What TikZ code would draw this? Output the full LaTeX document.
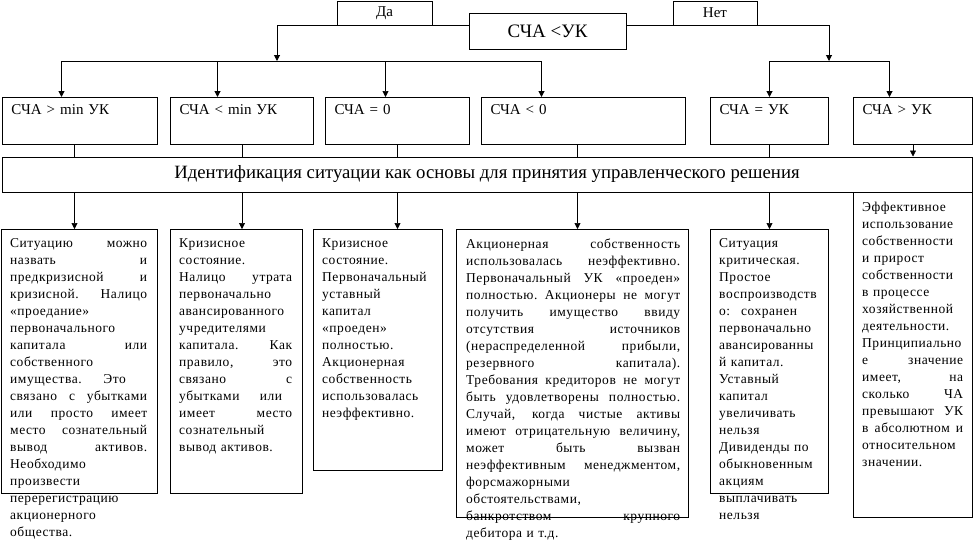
\documentclass[tikz,border=0pt]{standalone}
\usepackage{fontspec}
\setmainfont{Liberation Serif}
\newfontfamily\bodyfont[LetterSpace=4]{Liberation Serif}
\usetikzlibrary{arrows.meta, positioning, calc}

% строка, растянутая на всю ширину (выравнивание по ширине)
\newcommand{\jl}[1]{\leavevmode\hbox to \hsize{\spaceskip=0.3em plus 1fil\xspaceskip=0.3em plus 1fil\relax #1}}

\begin{document}
\begin{tikzpicture}[
    x=1pt, y=-1pt,
    font=\bodyfont\fontsize{13.5}{17}\selectfont,
    >={Triangle[length=6pt, width=6pt]},
    conn/.style={line width=1pt},
    thinconn/.style={line width=0.6pt},
    box/.style={rectangle, draw=black, line width=1pt, inner sep=0pt},
    tagbox/.style={box, minimum height=24pt, font=\rmfamily\fontsize{15}{17}\selectfont},
    condbox/.style={box, anchor=north west, minimum height=47pt, align=left, text width=#1,
        text height=13pt, text depth=26pt, inner xsep=9pt, inner ysep=4pt, font=\rmfamily\fontsize{15}{17}\selectfont},
    descbox/.style={box, anchor=north west},
    desctext/.style={anchor=north west, inner sep=0pt, align=left, text width=#1}
]

    % ================= 1. УСЛОВИЕ =================
    \node[box, minimum width=157pt, minimum height=36pt, font=\rmfamily\fontsize{19}{21}\selectfont] (sca) at (547.5,31) {СЧА <УК};
    \node[tagbox, minimum width=95pt] (da) at (384.5,13) {Да};
    \node[tagbox, minimum width=84pt] (net) at (715,13) {Нет\hspace{14pt}};

    \coordinate (yes) at (277,61);
    \coordinate (no) at (829,61);

    % ================= 2. СООТНОШЕНИЯ СЧА И УК =================
    \node[condbox=137pt] (r1) at (2,97) {СЧА > min УК};
    \node[condbox=125pt] (r2) at (170,97) {СЧА < min УК};
    \node[condbox=126pt] (r3) at (325,97) {СЧА = 0};
    \node[condbox=186pt] (r4) at (481,97) {СЧА < 0};
    \node[condbox=100pt] (r5) at (710,97) {СЧА = УК};
    \node[condbox=101pt] (r6) at (853,97) {СЧА > УК};

    % ================= 3. ИДЕНТИФИКАЦИЯ =================
    \node[box, minimum width=970pt, minimum height=35pt, font=\rmfamily\fontsize{18.75}{21}\selectfont] (big) at (487,174.5) {Идентификация ситуации как основы для принятия управленческого решения};

    % ================= 4. ОПИСАНИЕ СИТУАЦИЙ =================
    \node[descbox, minimum width=156pt, minimum height=264pt] (d1) at (1,229) {};
    \node[descbox, minimum width=132pt, minimum height=264pt] (d2) at (170,229) {};
    \node[descbox, minimum width=129pt, minimum height=241pt] (d3) at (313,229) {};
    \node[descbox, minimum width=232pt, minimum height=288pt] (d4) at (456,229) {};
    \node[descbox, minimum width=118pt, minimum height=264pt] (d5) at (710,229) {};
    \node[descbox, minimum width=119pt, minimum height=325pt] (d6) at (853,192) {};

    \node[desctext=137pt] (t1) at ([xshift=9pt, yshift=-9.5pt]d1.north west) {%
        \jl{Ситуацию можно}\\
        \jl{назвать и}\\
        \jl{предкризисной и}\\
        \jl{кризисной. Налицо}\\
        «проедание»\\
        первоначального\\
        \jl{капитала или}\\
        собственного\\
        имущества.\hspace{1.6em}Это\\
        \jl{связано с убытками}\\
        \jl{или просто имеет}\\
        \jl{место сознательный}\\
        \jl{вывод активов.}\\
        Необходимо\\
        произвести\\
        перерегистрацию\\
        акционерного\\
        общества.};

    \node[desctext=113pt] (t2) at ([xshift=9pt, yshift=-9.5pt]d2.north west) {%
        Кризисное\\
        состояние.\\
        \jl{Налицо утрата}\\
        первоначально\\
        авансированного\\
        учредителями\\
        \jl{капитала. Как}\\
        \jl{правило, это}\\
        \jl{связано с}\\
        убытками\hspace{1.5em}или\\
        \jl{имеет место}\\
        сознательный\\
        вывод активов.};

    \node[desctext=112pt] (t3) at ([xshift=9pt, yshift=-9.5pt]d3.north west) {%
        Кризисное\\
        состояние.\\
        Первоначальный\\
        уставный\\
        капитал\\
        «проеден»\\
        полностью.\\
        Акционерная\\
        собственность\\
        использовалась\\
        неэффективно.};

    \node[desctext=214pt] (t4) at ([xshift=10pt, yshift=-9.5pt]d4.north west) {%
        \jl{Акционерная собственность}\\
        \jl{использовалась неэффективно.}\\
        \jl{Первоначальный УК «проеден»}\\
        \jl{полностью. Акционеры не могут}\\
        \jl{получить имущество ввиду}\\
        \jl{отсутствия источников}\\
        \jl{(нераспределенной прибыли,}\\
        \jl{резервного капитала).}\\
        \jl{Требования кредиторов не могут}\\
        \jl{быть удовлетворены полностью.}\\
        \jl{Случай, когда чистые активы}\\
        \jl{имеют отрицательную величину,}\\
        \jl{может быть вызван}\\
        \jl{неэффективным менеджментом,}\\
        форсмажорными\\
        обстоятельствами,\\
        \jl{банкротством крупного}\\
        дебитора и т.д.};

    \node[desctext=100pt] (t5) at ([xshift=9pt, yshift=-9.5pt]d5.north west) {%
        Ситуация\\
        критическая.\\
        Простое\\
        воспроизводств\\
        о:\hspace{0.8em}сохранен\\
        первоначально\\
        авансированны\\
        й капитал.\\
        Уставный\\
        капитал\\
        увеличивать\\
        нельзя\\
        Дивиденды по\\
        обыкновенным\\
        акциям\\
        выплачивать\\
        нельзя};

    \node[desctext=101pt] (t6) at ([xshift=9pt, yshift=-9.5pt]d6.north west) {%
        Эффективное\\
        использование\\
        собственности\\
        и прирост\\
        собственности\\
        в процессе\\
        хозяйственной\\
        деятельности.\\
        Принципиально\\
        \jl{е значение}\\
        \jl{имеет, на}\\
        \jl{сколько ЧА}\\
        \jl{превышают УК}\\
        \jl{в абсолютном и}\\
        относительном\\
        значении.};

    % ================= СВЯЗИ =================

    % Да / Нет
    \draw[->, conn] ([yshift=6pt]sca.west) -| (yes);
    \draw[->, conn] ([yshift=6pt]sca.east) -| (no);

    % ветвь "Да"
    \draw[conn] ([xshift=-18.5pt]r1.north |- yes) -- ([xshift=-42pt]r4.north |- yes);
    \draw[->, conn] ([xshift=-18.5pt]r1.north |- yes) -- ([xshift=-18.5pt]r1.north);
    \draw[->, conn] ([xshift=-24.5pt]r2.north |- yes) -- ([xshift=-24.5pt]r2.north);
    \draw[->, thinconn] ([xshift=-12pt]r3.north |- yes) -- ([xshift=-12pt]r3.north);
    \draw[->, conn] ([xshift=-42pt]r4.north |- yes) -- ([xshift=-42pt]r4.north);

    % ветвь "Нет"
    \draw[conn] (r5.north |- no) -- ([xshift=-23.5pt]r6.north |- no);
    \draw[->, conn] (r5.north |- no) -- (r5.north);
    \draw[->, conn] ([xshift=-23.5pt]r6.north |- no) -- ([xshift=-23.5pt]r6.north);

    % к идентификации
    \draw[thinconn] ([xshift=-5.5pt]r1.south) -- ([xshift=-5.5pt]r1.south |- big.north);
    \draw[thinconn] (r2.south) -- (r2.south |- big.north);
    \draw[thinconn] (r3.south) -- (r3.south |- big.north);
    \draw[thinconn] ([xshift=-6pt]r4.south) -- ([xshift=-6pt]r4.south |- big.north);
    \draw[thinconn] (r5.south) -- (r5.south |- big.north);
    \draw[->, thinconn] (r6.south) -- (r6.south |- big.north);

    % к описаниям
    \draw[->, thinconn] ([xshift=-5.5pt]r1.south |- big.south) -- ([xshift=-5.5pt]r1.south |- d1.north);
    \draw[->, thinconn] (r2.south |- big.south) -- (r2.south |- d2.north);
    \draw[->, thinconn] (r3.south |- big.south) -- (r3.south |- d3.north);
    \draw[->, thinconn] ([xshift=-6pt]r4.south |- big.south) -- ([xshift=-6pt]r4.south |- d4.north);
    \draw[->, thinconn] (r5.south |- big.south) -- (r5.south |- d5.north);

    \useasboundingbox (0,0) rectangle (974,542);

\end{tikzpicture}
\end{document}
